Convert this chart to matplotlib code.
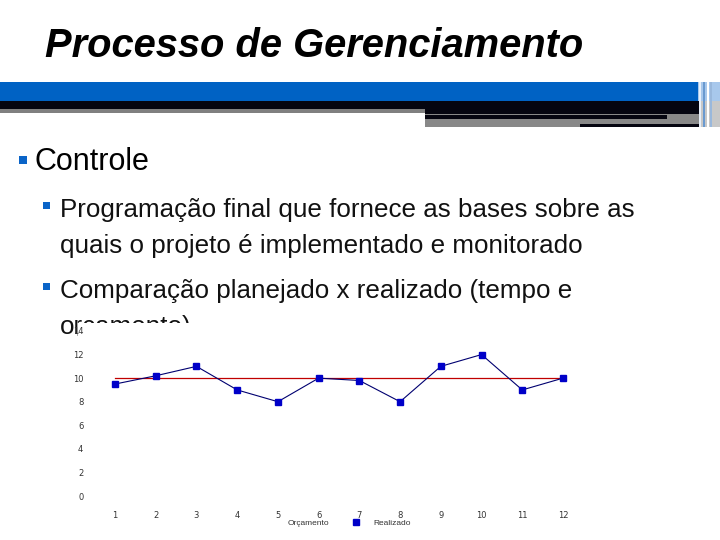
import matplotlib
matplotlib.use("Agg")
import matplotlib.pyplot as plt
from matplotlib.patches import Rectangle
from matplotlib.lines import Line2D

# chart data
meses = list(range(1, 13))
orcamento = [10] * 12
realizado = [9.5, 10.2, 11, 9, 8, 10, 9.8, 8, 11, 12, 9, 10]
y_ticks = [0, 2, 4, 6, 8, 10, 12, 14]

titulo = "Processo de Gerenciamento"
topico = "Controle"
linhas = [
    ("Programação final que fornece as bases sobre as", True),
    ("quais o projeto é implementado e monitorado", False),
    ("Comparação planejado x realizado (tempo e", True),
    ("orçamento)", False),
]

W, H = 720, 540
fig = plt.figure(figsize=(W / 100, H / 100), dpi=100)
fig.patch.set_facecolor("white")


def fx(px):
    return px / W


def fy(py):
    return 1 - py / H


def rect(x0, y0, x1, y1, color, z=1):
    fig.add_artist(Rectangle((fx(x0), fy(y1)), fx(x1) - fx(x0), (y1 - y0) / H,
                             transform=fig.transFigure, facecolor=color,
                             edgecolor="none", zorder=z))


# header bars
rect(0, 82, 698, 101, "#0062c4")
rect(0, 101, 700, 109, "#050510")
rect(0, 109, 425, 113, "#808080")
rect(425, 109, 700, 113.5, "#050510")
rect(425, 113.5, 705, 126.5, "#888888")
rect(425, 114.5, 667, 119, "#050510")
rect(580, 123.5, 707, 126.7, "#050510")
rect(698, 82, 720, 101, "#a8c8ec")
rect(700, 101, 720, 127, "#c8c8c8")
for xs, c in [(699, "#e8f0fa"), (703, "#6a9ad0"), (707, "#ffffff"), (710, "#9ab8dc")]:
    rect(xs, 82, xs + 1.5, 127, c, z=2)

fig.text(fx(45), fy(57), titulo, fontsize=28.7, fontweight="bold", fontstyle="italic",
         family=["Liberation Sans", "DejaVu Sans"], va="baseline", ha="left")

# bullets
sans = ["Liberation Sans", "DejaVu Sans"]
blue_bullet = "#0a64c8"
rect(19, 156, 27, 164, blue_bullet)
fig.text(fx(34), fy(170), topico, fontsize=22, family=sans, va="baseline")

base_y = [217, 253, 298, 334]
for (txt, bullet), by in zip(linhas, base_y):
    if bullet:
        rect(43, by - 15, 50, by - 8, blue_bullet)
    fig.text(fx(60), fy(by), txt, fontsize=18.7, family=sans, va="baseline", color="#111111")

# white chart background covering the last text line
rect(77, 323, 600, 540, "white", z=4)
fig.add_artist(Line2D([fx(77), fx(77)], [fy(322), fy(335)], transform=fig.transFigure,
                      color="#999999", lw=0.6, zorder=4.5))

# chart axes
left, right, top, bottom = 100, 580, 331, 496
ax = fig.add_axes([fx(left), fy(bottom), fx(right) - fx(left), (bottom - top) / H])
ax.set_zorder(5)
ax.patch.set_alpha(0)
px_unit = (563 - 115) / 11
ax.set_xlim(1 - (115 - left) / px_unit, 12 + (right - 563) / px_unit)
ax.set_ylim(0, 14)

ax.plot(meses, orcamento, color="#c00000", lw=0.9, clip_on=False)
ax.plot(meses, realizado, color="#000070", lw=0.8, marker="s", markersize=4,
        markerfacecolor="#0000c8", markeredgecolor="#0000c8", clip_on=False)

for s in ax.spines.values():
    s.set_visible(False)
ax.set_xticks(meses)
ax.set_yticks(y_ticks)
ax.tick_params(length=0, labelsize=6, colors="#333333")
ax.tick_params(axis="y", pad=12)
ax.tick_params(axis="x", pad=11)

# legend
fig.text(fx(288), fy(525), "Orçamento", fontsize=6, family=sans, color="#333333", zorder=6)
fig.add_artist(Line2D([fx(356)], [fy(522)], transform=fig.transFigure, marker="s",
                      markersize=4, color="#0000c8", linestyle="none", zorder=6))
fig.text(fx(373), fy(525), "Realizado", fontsize=6, family=sans, color="#333333", zorder=6)

fig.savefig("out.png", dpi=100)
